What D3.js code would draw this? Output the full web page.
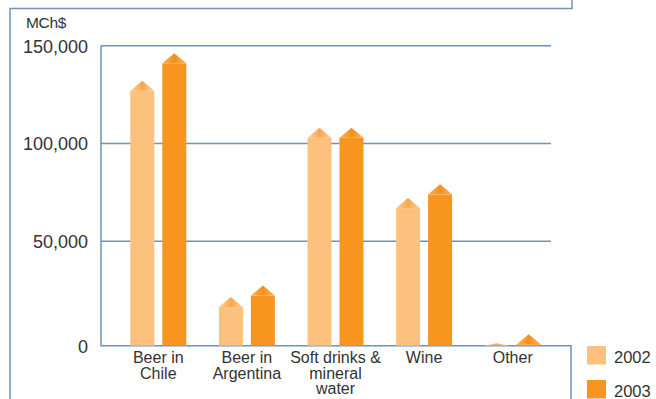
<!DOCTYPE html>
<html>
<head>
<meta charset="utf-8">
<script src="https://cdn.jsdelivr.net/npm/d3@7"></script>
<style>
  html, body { margin: 0; padding: 0; background: #fff; }
  svg { display: block; font-family: "Liberation Sans", Arial, Helvetica, sans-serif; }
</style>
</head>
<body>
<svg id="chart" width="656" height="399"></svg>
<script>
// Sales by segment, MCh$
const categories = [["Beer in", "Chile"], ["Beer in", "Argentina"], ["Soft drinks &", "mineral", "water"], ["Wine"], ["Other"]];
const years = ["2002", "2003"];
const values2002 = [127000, 18500, 103000, 67000, 150];
const values2003 = [141000, 24000, 103000, 74000, 700];
const yTicks = [0, 50000, 100000, 150000];
const unitLabel = "MCh$";

const colors = { "2002": "#fdc17e", "2003": "#f7951f" };
const headLight = { "2002": "#fdd3a2", "2003": "#fbb45e" };
const headDark = { "2002": "#f9a64b", "2003": "#f68f1a" };
const lineColor = "#6f92b8";
const textColor = "#333333";

const svg = d3.select("#chart");
const defs = svg.append("defs");
years.forEach(yr => {
  const g = defs.append("linearGradient").attr("id", "head" + yr)
    .attr("x1", "0%").attr("x2", "100%").attr("y1", "0%").attr("y2", "0%");
  g.append("stop").attr("offset", "0%").attr("stop-color", headLight[yr]);
  g.append("stop").attr("offset", "50%").attr("stop-color", headDark[yr]);
  g.append("stop").attr("offset", "100%").attr("stop-color", headLight[yr]);
});

const plotLeft = 101, plotRight = 551, axisRight = 571;
// value axis: the lowest band (0 to 50,000) sits a little deeper than the others
const y = d3.scaleLinear().domain([0, 50000, 150000]).range([345.7, 241.3, 45.7]);
const x0 = d3.scaleBand().domain(d3.range(categories.length)).range([114, 557]);
const barW = 24, barGap = 8;

// frame
const frame = svg.append("g").attr("fill", "none").attr("stroke", lineColor).attr("stroke-width", 1.5);
frame.append("path").attr("d", `M10,399 V8.5 H572 V0`);

// gridlines and axes
const grid = svg.append("g").attr("stroke", lineColor).attr("stroke-width", 1.5).attr("fill", "none");
yTicks.filter(t => t > 0).forEach(t => {
  grid.append("line").attr("x1", plotLeft).attr("x2", plotRight)
    .attr("y1", y(t)).attr("y2", y(t));
});
grid.append("path").attr("d", `M${plotLeft},${y(150000)} V${y(0)} H${axisRight} V399`);

// y tick labels
const yAxis = d3.axisLeft(y).tickValues(yTicks).tickSize(0).tickPadding(0)
  .tickFormat(d3.format(","));
const yg = svg.append("g").attr("transform", `translate(88,0)`).call(yAxis);
yg.select(".domain").remove();
yg.selectAll("text").attr("font-size", 18).attr("fill", textColor)
  .attr("font-family", "Liberation Sans, Arial, sans-serif").attr("dy", "0.36em").attr("x", 0);

svg.append("text").attr("x", 46).attr("y", 28).attr("text-anchor", "middle")
  .attr("font-size", 15.5).attr("letter-spacing", -0.3).attr("fill", textColor).text(unitLabel);

// bars with pyramid heads
const series = [{ yr: "2002", vals: values2002 }, { yr: "2003", vals: values2003 }];
series.forEach((s, si) => {
  const g = svg.append("g");
  s.vals.forEach((v, i) => {
    const cx = x0(i) + x0.bandwidth() / 2;
    const bx = cx - barW - barGap / 2 + si * (barW + barGap);
    const top = y(v);
    const hh = Math.min(10, v * 0.015);
    g.append("rect").attr("x", bx).attr("y", top).attr("width", barW)
      .attr("height", y(0) - top).attr("fill", colors[s.yr]);
    g.append("path")
      .attr("d", `M${bx},${top} L${bx + barW / 2},${top - hh} L${bx + barW},${top} Z`)
      .attr("fill", `url(#head${s.yr})`);
  });
});

// category labels
categories.forEach((lines, i) => {
  const cx = x0(i) + x0.bandwidth() / 2;
  const t = svg.append("text").attr("text-anchor", "middle").attr("font-size", 16)
    .attr("fill", textColor);
  lines.forEach((ln, k) => {
    t.append("tspan").attr("x", cx).attr("y", 363 + k * 15.5).text(ln);
  });
});

// legend
years.forEach((yr, i) => {
  const ly = 346 + i * 34;
  svg.append("rect").attr("x", 587).attr("y", ly).attr("width", 19).attr("height", 18.5)
    .attr("fill", colors[yr]);
  svg.append("text").attr("x", 614).attr("y", ly + 16.5).attr("font-size", 16.5)
    .attr("fill", textColor).text(yr);
});
</script>
</body>
</html>
